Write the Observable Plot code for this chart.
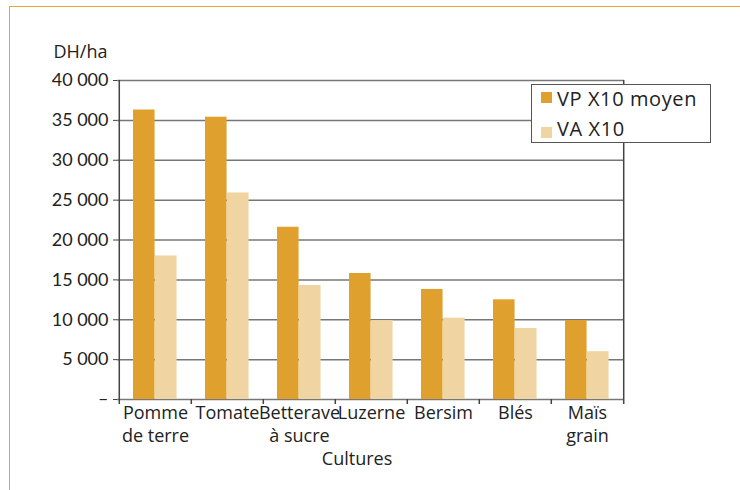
<!DOCTYPE html>
<html><head><meta charset="utf-8">
<script src="https://cdn.jsdelivr.net/npm/d3@7"></script>
<script src="https://cdn.jsdelivr.net/npm/@observablehq/plot@0.6"></script>
<style>
body{margin:0;background:#fff;}
#wrap{position:relative;width:740px;height:490px;font-family:"Open Sans",sans-serif;color:#222;}
#border{position:absolute;left:9px;top:6px;right:0;bottom:0;border-top:1.5px solid #E8A33A;border-left:1.5px solid #E8A33A;pointer-events:none;}
#legend{position:absolute;left:531px;top:84px;width:178px;height:57px;background:#fff;border:1px solid #555;}
#legend .sw{position:absolute;left:9px;width:11px;height:11px;}
#legend .lb{position:absolute;left:25px;font-size:20px;line-height:20px;letter-spacing:0.6px;white-space:nowrap;}
</style></head>
<body>
<div id="wrap"><div id="border"></div></div>
<script>
const crops = ["Pomme\nde terre", "Tomate", "Betterave\nà sucre", "Luzerne", "Bersim", "Blés", "Maïs\ngrain"];
const vpValues = [36300, 35400, 21600, 15800, 13800, 12500, 9900];
const vaValues = [18000, 25900, 14300, 9900, 10200, 8900, 6000];
const yTicks = [0, 5000, 10000, 15000, 20000, 25000, 30000, 35000, 40000];
const seriesNames = ["VP X10 moyen", "VA X10"];
const seriesColors = ["#DFA02E", "#F0D5A3"];
const yLabel = "DH/ha";
const xLabel = "Cultures";

const rows = crops.map((c, i) => ({crop: c, vp: vpValues[i], va: vaValues[i]}));

const W = 740, H = 490, mL = 117, mR = 116, mT = 80, mB = 91;
const bw = (W - mL - mR) / crops.length;
const fmt = d => d === 0 ? "–" : d3.format(",")(d).replace(/,/g, " ");

const chart = Plot.plot({
  width: W, height: H,
  marginLeft: mL, marginRight: mR, marginTop: mT, marginBottom: mB,
  style: {fontFamily: "'Open Sans', sans-serif", color: "#222", background: "transparent", overflow: "visible"},
  x: {domain: crops, padding: 0},
  y: {domain: [0, 40000]},
  marks: [
    Plot.gridY(yTicks, {stroke: "#777", strokeOpacity: 1, strokeWidth: 1.5}),
    Plot.barY(rows, {x: "crop", y: "vp", fill: seriesColors[0], insetLeft: 14, insetRight: bw - 36}),
    Plot.barY(rows, {x: "crop", y: "va", fill: seriesColors[1], insetLeft: 36, insetRight: bw - 58}),
    Plot.ruleX([crops[0]], {x: d => d, dx: -bw / 2, y1: 40000, y2: 0, insetBottom: -5, stroke: "#444", strokeWidth: 1.5}),
    Plot.ruleX([crops[crops.length - 1]], {x: d => d, dx: bw / 2, y1: 40000, y2: 0, insetBottom: -5, stroke: "#444", strokeWidth: 1.5}),
    Plot.ruleX(crops.slice(1), {x: d => d, dx: -bw / 2, y1: 0, y2: 0, insetBottom: -5, stroke: "#444", strokeWidth: 1.5}),
    Plot.axisY({ticks: yTicks, tickFormat: fmt, tickSize: 4, tickPadding: 5, fontSize: 18, fontFamily: "Lato, sans-serif", label: null, stroke: "#444"}),
    Plot.axisX({tickSize: 0, tickPadding: 3, fontSize: 18, lineHeight: 1.28, label: null}),
    Plot.text([yLabel], {text: d => d, frameAnchor: "top-left", textAnchor: "middle", dx: -37, dy: -35, fontSize: 18}),
    Plot.text([xLabel], {text: d => d, frameAnchor: "bottom", dx: -14, dy: 65, fontSize: 18})
  ]
});
document.getElementById("wrap").appendChild(chart);

const legend = document.createElement("div");
legend.id = "legend";
seriesNames.forEach((name, i) => {
  const sw = document.createElement("div");
  sw.className = "sw";
  sw.style.top = (7 + i * 35) + "px";
  sw.style.background = seriesColors[i];
  const lb = document.createElement("div");
  lb.className = "lb";
  lb.style.top = (4 + i * 30) + "px";
  lb.textContent = name;
  legend.appendChild(sw);
  legend.appendChild(lb);
});
document.getElementById("wrap").appendChild(legend);
</script>
</body></html>
